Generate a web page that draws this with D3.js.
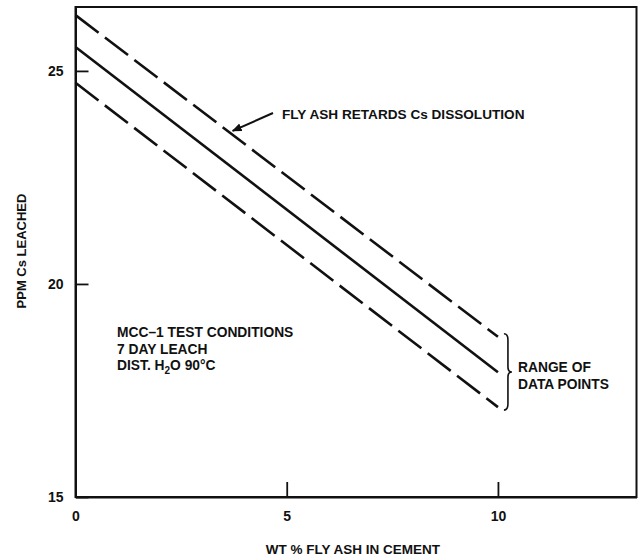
<!DOCTYPE html>
<html>
<head>
<meta charset="utf-8">
<script src="https://cdn.jsdelivr.net/npm/d3@7"></script>
<style>
  html, body { margin: 0; padding: 0; background: #fff; }
  svg { display: block; }
  text { font-family: "Liberation Sans", Arial, sans-serif; font-weight: bold; fill: #111; }
</style>
</head>
<body>
<svg id="chart" width="639" height="558"></svg>
<script>
// ---- data ----
const xValues = [0, 10];
const upperBound = [26.31, 18.76];
const meanLine = [25.56, 17.93];
const lowerBound = [24.72, 17.11];
const xTicks = [0, 5, 10];
const yTicks = [15, 20, 25];
const xTitle = "WT % FLY ASH IN CEMENT";
const yTitle = "PPM Cs LEACHED";
const arrowNote = "FLY ASH RETARDS Cs DISSOLUTION";
const conditions = ["MCC\u20131 TEST CONDITIONS", "7 DAY LEACH"];
const rangeNote = ["RANGE OF", "DATA POINTS"];

// ---- layout ----
const W = 639, H = 558;
const m = { left: 75.5, right: 2.5, top: 7, bottom: 61 };
const svg = d3.select("#chart");

const x = d3.scaleLinear().domain([0, 13.28]).range([m.left, W - m.right]);
const y = d3.scaleLinear().domain([15, 26.5]).range([H - m.bottom, m.top]);

const ink = "#111";

// frame
svg.append("rect")
  .attr("x", x(0)).attr("y", y(26.5))
  .attr("width", x(13.28) - x(0)).attr("height", y(15) - y(26.5))
  .attr("fill", "none").attr("stroke", ink).attr("stroke-width", 2);

// axes
const xAxis = svg.append("g")
  .attr("transform", `translate(0,${y(15)})`)
  .call(d3.axisBottom(x).tickValues(xTicks).tickFormat(d3.format("d"))
        .tickSizeInner(-15).tickSizeOuter(0).tickPadding(14));
const yAxis = svg.append("g")
  .attr("transform", `translate(${x(0)},0)`)
  .call(d3.axisLeft(y).tickValues(yTicks).tickFormat(d3.format("d"))
        .tickSizeInner(-13).tickSizeOuter(0).tickPadding(12));
[xAxis, yAxis].forEach(g => {
  g.select(".domain").attr("stroke", ink).attr("stroke-width", 2);
  g.selectAll(".tick line").attr("stroke", ink).attr("stroke-width", 1.8);
  g.selectAll(".tick text").style("font-size", "14px")
    .style("font-family", "'Liberation Sans', Arial, sans-serif").style("font-weight", "bold").attr("fill", ink);
});

// lines
const line = d3.line().x(d => x(d[0])).y(d => y(d[1]));
const series = [
  { vals: upperBound, dash: "29,8" },
  { vals: meanLine, dash: null },
  { vals: lowerBound, dash: "29,8" }
];
series.forEach(s => {
  svg.append("path")
    .datum(xValues.map((v, i) => [v, s.vals[i]]))
    .attr("d", line)
    .attr("fill", "none")
    .attr("stroke", ink)
    .attr("stroke-width", 2.6)
    .attr("stroke-dasharray", s.dash);
});

// axis titles
svg.append("text")
  .attr("x", 353).attr("y", 554)
  .attr("text-anchor", "middle").style("font-size", "13.5px")
  .text(xTitle);
svg.append("text")
  .attr("transform", `translate(26,251) rotate(-90)`)
  .attr("text-anchor", "middle").style("font-size", "13px")
  .text(yTitle);

// arrow annotation
const defs = svg.append("defs");
defs.append("marker").attr("id", "arrow")
  .attr("viewBox", "0 0 10 10").attr("refX", 9).attr("refY", 5)
  .attr("markerWidth", 5).attr("markerHeight", 5).attr("orient", "auto")
  .append("path").attr("d", "M0,1 L10,5 L0,9 Z").attr("fill", ink);
const ax = 3.72, ay = upperBound[0] + (upperBound[1] - upperBound[0]) * ax / 10 + 0.09;
svg.append("line")
  .attr("x1", 273).attr("y1", 113)
  .attr("x2", x(ax)).attr("y2", y(ay))
  .attr("stroke", ink).attr("stroke-width", 2)
  .attr("marker-end", "url(#arrow)");
svg.append("text")
  .attr("x", 282).attr("y", 119).style("font-size", "13.6px")
  .text(arrowNote);

// conditions block
const cond = svg.append("text").attr("x", 117).attr("y", 337).style("font-size", "13.8px");
conditions.forEach((t, i) => {
  cond.append("tspan").attr("x", 117).attr("dy", i === 0 ? 0 : 16.5).text(t);
});
const c3 = cond.append("tspan").attr("x", 117).attr("dy", 16.5).text("DIST. H");
cond.append("tspan").attr("dy", 4).style("font-size", "10px").text("2");
cond.append("tspan").attr("dy", -4).text("O 90\u00B0C");

// brace for range of data points
const bx = x(10) + 9;
const yt = y(upperBound[1]) - 3, yb = y(lowerBound[1]) + 3, ym = (yt + yb) / 2;
const brace = d3.path();
brace.moveTo(bx - 3, yt);
brace.quadraticCurveTo(bx + 1, yt, bx + 1, yt + 6);
brace.lineTo(bx + 1, ym - 5);
brace.quadraticCurveTo(bx + 1, ym, bx + 5, ym);
brace.quadraticCurveTo(bx + 1, ym, bx + 1, ym + 5);
brace.lineTo(bx + 1, yb - 6);
brace.quadraticCurveTo(bx + 1, yb, bx - 3, yb);
svg.append("path").attr("d", brace.toString())
  .attr("fill", "none").attr("stroke", ink).attr("stroke-width", 1.6);

const rng = svg.append("text").attr("x", 518).attr("y", 372).style("font-size", "13.8px");
rangeNote.forEach((t, i) => {
  rng.append("tspan").attr("x", 518).attr("dy", i === 0 ? 0 : 16.5).text(t);
});
</script>
</body>
</html>
